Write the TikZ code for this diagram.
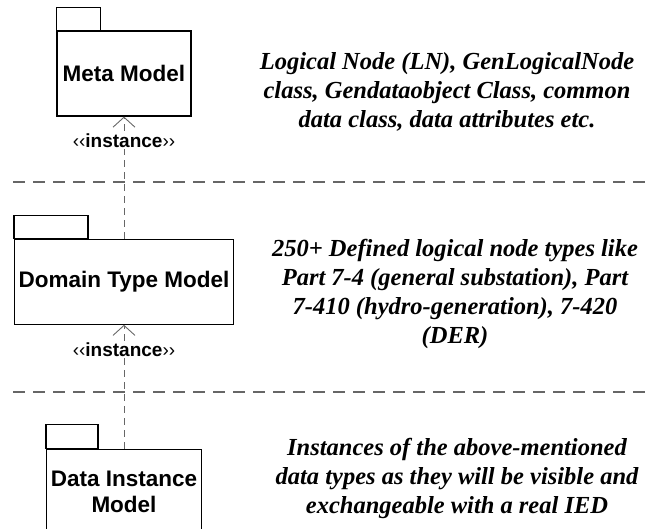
\documentclass[tikz,border=0pt]{standalone}
\usepackage{fontspec}
\setmainfont{Liberation Serif}
\newfontfamily\arialfont{Liberation Sans}
\usetikzlibrary{positioning, arrows.meta}
\tikzstyle{package} = [rectangle, draw = black, line width = 1.2pt, text centered, align = center, fill = white, inner sep = 0pt, minimum height = 85pt, font = \arialfont\bfseries\fontsize{22.5}{26}\selectfont]
\tikzstyle{tab} = [draw = black, line width = 1.2pt]
\tikzstyle{note} = [align = center, font = \bfseries\itshape\fontsize{24.5}{29}\selectfont]
\tikzstyle{separator} = [draw = black!60, line width = 1.6pt, dash pattern = on 12pt off 8pt]
\tikzstyle{instance} = [draw = black!60, line width = 0.9pt, dash pattern = on 7pt off 5pt, -{Straight Barb[length = 10pt, width = 22pt]}]
\tikzstyle{stereo} = [fill = white, inner sep = 1pt, font = \arialfont\fontsize{19}{22}\selectfont]

\begin{document}
\begin{tikzpicture}[x = 1pt, y = 1pt]
    \path[use as bounding box, clip] (0, 0) rectangle (649, -529);
    % layer separators
    \draw[separator](13, -182)--(649, -182);
    \draw[separator](13, -392)--(649, -392);

    % \node(label)[style]{text};
    \node(meta)[package, minimum width = 134pt] at (124, -73.5){Meta Model};
    \node(domain)[package, minimum width = 219pt, below = 122pt of meta]{Domain Type Model};
    \node(data)[package, minimum width = 155pt, below = 124pt of domain]{Data Instance\\Model};
    \draw[tab](meta.north west) rectangle ++(44, 23);
    \draw[tab](domain.north west) rectangle ++(74, 23);
    \draw[tab](data.north west) rectangle ++(52, 24);

    \node(metanote)[note] at (447, -92){Logical Node (LN), GenLogicalNode\\class, Gendataobject Class, common\\data class, data attributes etc.};
    \node(domainnote)[note] at (455, -294){250+ Defined logical node types like\\Part 7-4 (general substation), Part\\7-410 (hydro-generation), 7-420\\(DER)};
    \node(datanote)[note] at (457, -478){Instances of the above-mentioned\\data types as they will be visible and\\exchangeable with a real IED};

    \draw[instance](domain.north)--node[stereo, pos = 0.8]{‹‹\textbf{instance}››}(meta.south);
    \draw[instance](data.north)--node[stereo, pos = 0.8]{‹‹\textbf{instance}››}(domain.south);
\end{tikzpicture}
\end{document}
